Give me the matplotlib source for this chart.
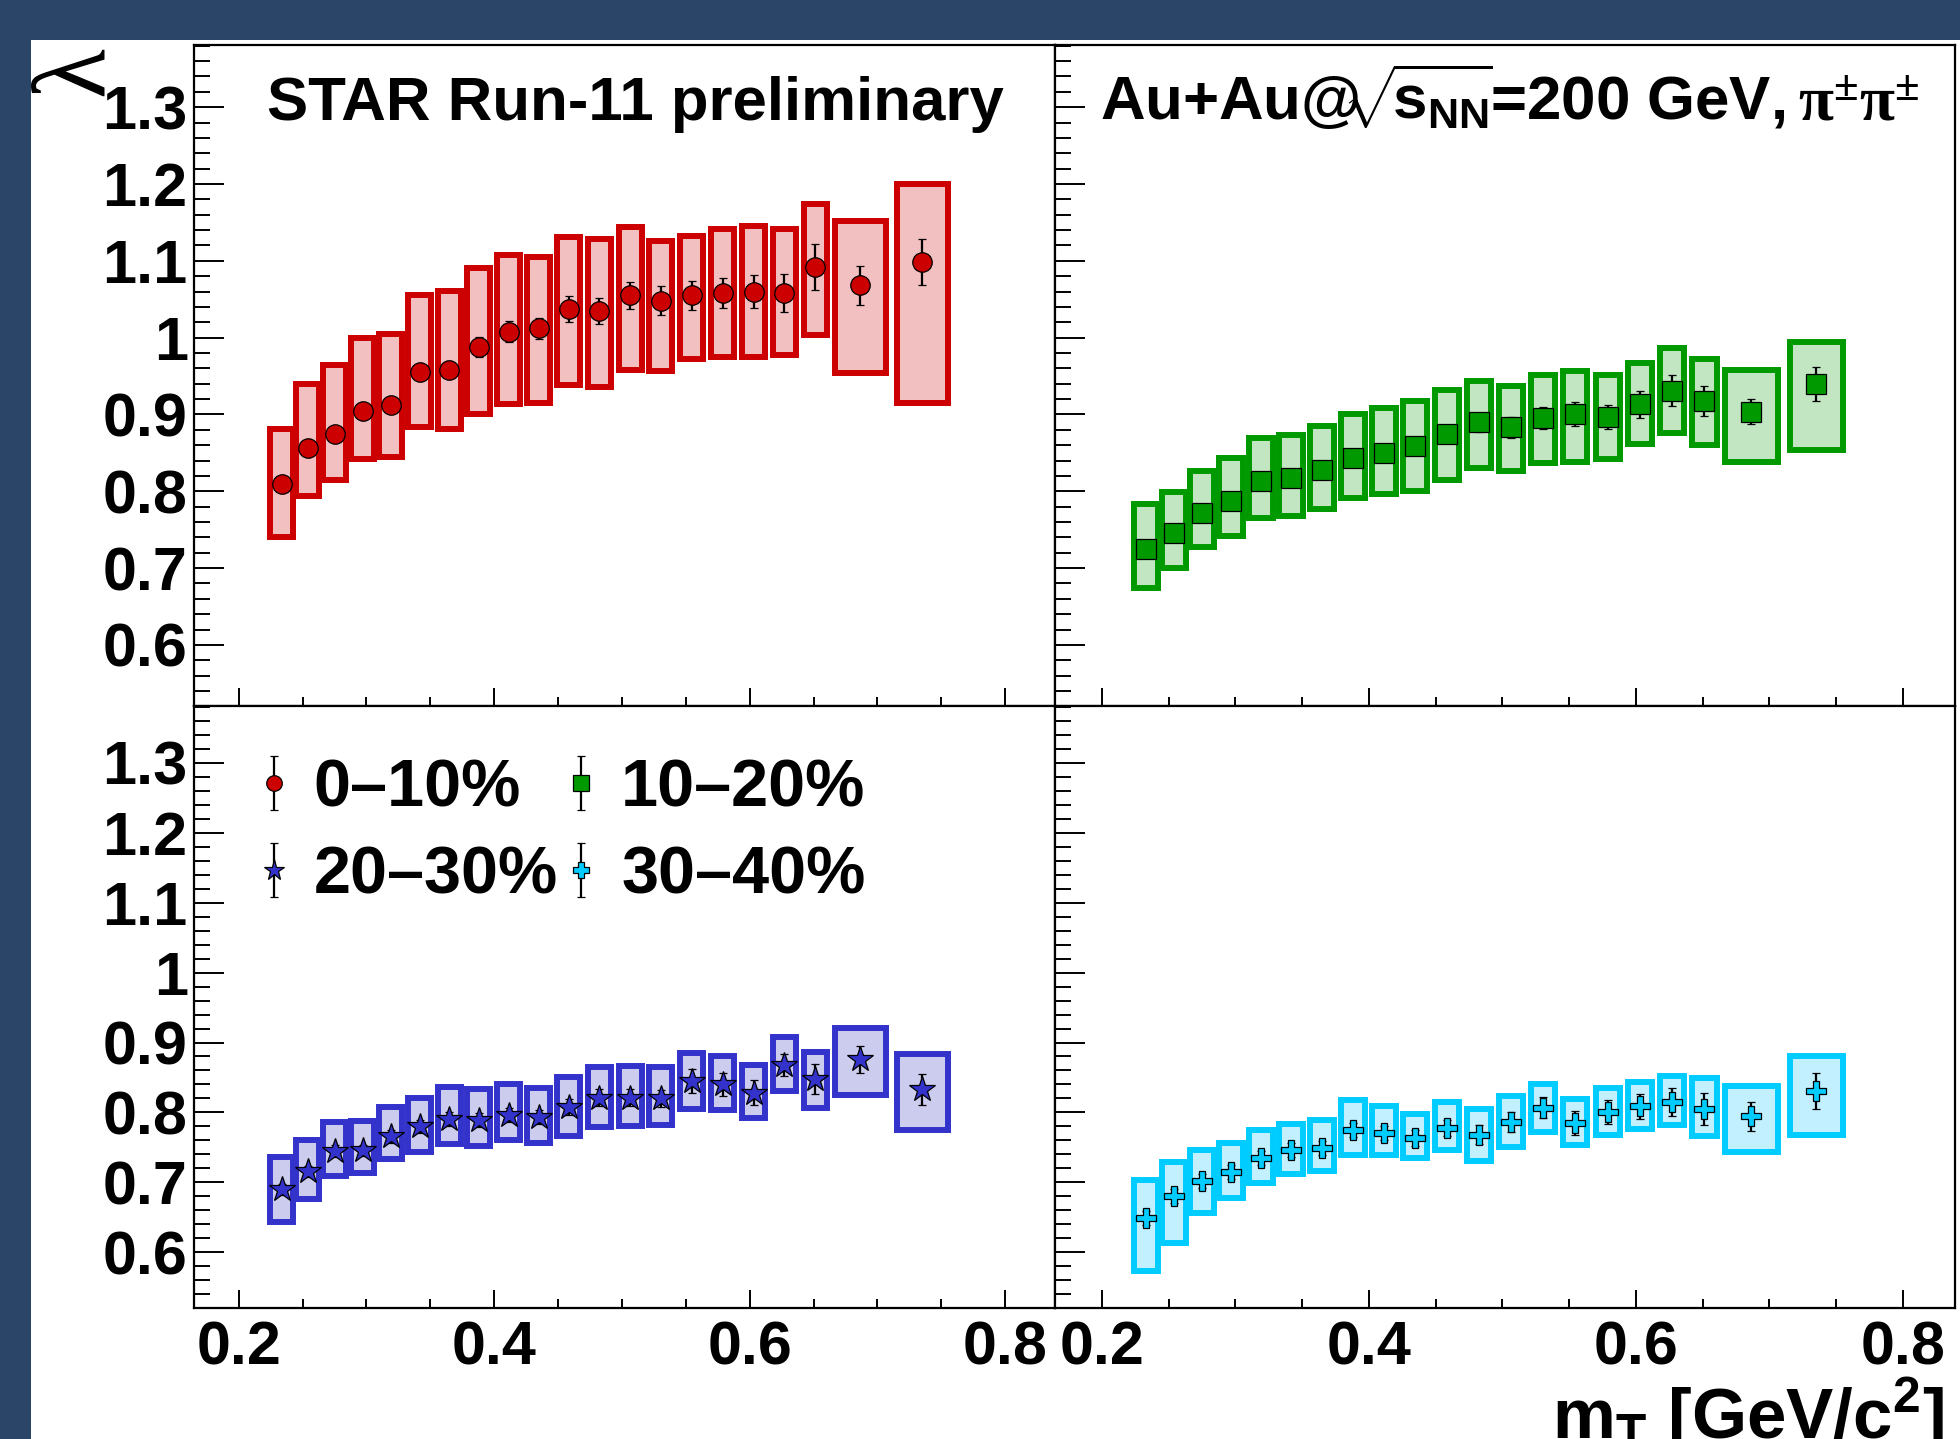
import numpy as np
import matplotlib
matplotlib.use('Agg')
import matplotlib.pyplot as plt
from matplotlib.patches import Rectangle
from matplotlib.ticker import MultipleLocator, FixedLocator
from matplotlib.legend_handler import HandlerErrorbar

plt.rcParams['font.family'] = ['Liberation Sans', 'DejaVu Sans']
plt.rcParams['font.weight'] = 'bold'
plt.rcParams['mathtext.fontset'] = 'custom'
plt.rcParams['mathtext.rm'] = 'Liberation Sans:bold'
plt.rcParams['mathtext.bf'] = 'Liberation Sans:bold'
plt.rcParams['mathtext.it'] = 'Liberation Sans:bold:italic'
plt.rcParams['mathtext.sf'] = 'Liberation Serif'

# --- data ---
mt = [0.2335, 0.254, 0.2752, 0.297, 0.319, 0.3417, 0.3648, 0.388, 0.4113, 0.4348, 0.4584,
      0.4824, 0.5065, 0.5303, 0.5545, 0.5789, 0.603, 0.6272, 0.6514, 0.6865, 0.7351]
box_w = [0.018] * 19 + [0.04, 0.04]

centrality = ['0–10%', '10–20%', '20–30%', '30–40%']

lam_0_10 = [0.809, 0.857, 0.874, 0.905, 0.912, 0.955, 0.958, 0.988, 1.008, 1.012, 1.037,
            1.035, 1.055, 1.048, 1.055, 1.058, 1.060, 1.058, 1.092, 1.068, 1.098]
stat_0_10 = [0.008, 0.008, 0.009, 0.009, 0.010, 0.010, 0.011, 0.013, 0.0135, 0.014, 0.0167,
             0.0167, 0.018, 0.019, 0.019, 0.020, 0.021, 0.025, 0.030, 0.025, 0.030]
syshi_0_10 = [0.072, 0.083, 0.090, 0.094, 0.093, 0.100, 0.103, 0.103, 0.100, 0.093, 0.094,
              0.093, 0.089, 0.078, 0.078, 0.084, 0.085, 0.084, 0.082, 0.084, 0.102]
syslo_0_10 = [0.068, 0.063, 0.059, 0.063, 0.067, 0.071, 0.077, 0.088, 0.094, 0.097, 0.099,
              0.099, 0.097, 0.091, 0.083, 0.083, 0.085, 0.080, 0.089, 0.114, 0.183]

lam_10_20 = [0.7255, 0.746, 0.7716, 0.7873, 0.8129, 0.8177, 0.8281, 0.8437, 0.8503, 0.859, 0.8746,
             0.8898, 0.8832, 0.8955, 0.9011, 0.8972, 0.9132, 0.9311, 0.9177, 0.9037, 0.9398]
stat_10_20 = [0.008, 0.008, 0.008, 0.009, 0.009, 0.010, 0.010, 0.011, 0.011, 0.011, 0.012,
              0.012, 0.0135, 0.014, 0.0156, 0.0156, 0.018, 0.020, 0.020, 0.016, 0.0226]
syshi_10_20 = [0.058, 0.053, 0.055, 0.056, 0.057, 0.056, 0.057, 0.057, 0.058, 0.058, 0.057,
               0.054, 0.054, 0.056, 0.055, 0.054, 0.054, 0.055, 0.054, 0.054, 0.054]
syslo_10_20 = [0.051, 0.046, 0.044, 0.045, 0.048, 0.050, 0.051, 0.053, 0.054, 0.058, 0.060,
               0.060, 0.057, 0.059, 0.063, 0.055, 0.051, 0.055, 0.058, 0.065, 0.086]

lam_20_30 = [0.690, 0.716, 0.745, 0.746, 0.766, 0.780, 0.791, 0.789, 0.797, 0.794, 0.808,
             0.821, 0.821, 0.820, 0.845, 0.840, 0.828, 0.868, 0.848, 0.876, 0.833]
stat_20_30 = [0.008, 0.008, 0.008, 0.008, 0.009, 0.009, 0.010, 0.010, 0.010, 0.010, 0.011,
              0.012, 0.012, 0.012, 0.0167, 0.016, 0.018, 0.0155, 0.0215, 0.0196, 0.022]
syshi_20_30 = [0.047, 0.045, 0.041, 0.042, 0.042, 0.041, 0.046, 0.044, 0.043, 0.041, 0.042,
               0.044, 0.046, 0.045, 0.040, 0.041, 0.040, 0.040, 0.039, 0.045, 0.051]
syslo_20_30 = [0.047, 0.039, 0.036, 0.032, 0.033, 0.037, 0.036, 0.037, 0.037, 0.038, 0.041,
               0.042, 0.041, 0.038, 0.040, 0.037, 0.036, 0.038, 0.042, 0.051, 0.058]

lam_30_40 = [0.649, 0.6805, 0.7016, 0.7149, 0.7355, 0.7459, 0.7488, 0.7745, 0.7712, 0.7635, 0.7778,
             0.7684, 0.786, 0.807, 0.785, 0.8003, 0.8089, 0.815, 0.805, 0.7946, 0.8303]
stat_30_40 = [0.010, 0.010, 0.010, 0.010, 0.010, 0.010, 0.010, 0.010, 0.010, 0.011, 0.012,
              0.013, 0.014, 0.015, 0.0167, 0.017, 0.018, 0.020, 0.023, 0.0207, 0.026]
syshi_30_40 = [0.054, 0.049, 0.045, 0.041, 0.039, 0.037, 0.041, 0.044, 0.038, 0.034, 0.037,
               0.037, 0.038, 0.034, 0.034, 0.035, 0.034, 0.037, 0.044, 0.043, 0.050]
syslo_30_40 = [0.076, 0.067, 0.045, 0.037, 0.036, 0.034, 0.033, 0.036, 0.032, 0.029, 0.032,
               0.038, 0.036, 0.035, 0.032, 0.033, 0.033, 0.033, 0.039, 0.051, 0.062]

xtick_vals = [0.2, 0.4, 0.6, 0.8]
xtick_labels = ['0.2', '0.4', '0.6', '0.8']
ytick_vals = [0.6, 0.7, 0.8, 0.9, 1.0, 1.1, 1.2, 1.3]
ytick_labels = ['0.6', '0.7', '0.8', '0.9', '1', '1.1', '1.2', '1.3']

W, H = 1960, 1439
fig = plt.figure(figsize=(W / 100, H / 100), dpi=100, facecolor='#2A4567')
fig.patches.append(Rectangle((31 / W, 0), 1 - 31 / W, 1 - 40 / H, transform=fig.transFigure,
                             facecolor='white', edgecolor='none', zorder=-1))


def px_axes(x0, y0, x1, y1):
    return fig.add_axes([x0 / W, 1 - y1 / H, (x1 - x0) / W, (y1 - y0) / H])


ax_tl = px_axes(194, 45, 1055, 706)
ax_tr = px_axes(1055, 45, 1955, 706)
ax_bl = px_axes(194, 706, 1055, 1308)
ax_br = px_axes(1055, 706, 1955, 1308)


def draw_panel(ax, lam, stat, syslo, syshi, color, fill, marker, ms):
    lam = np.array(lam)
    lo = np.array(syslo)
    hi = np.array(syshi)
    ax.bar(mt, lo + hi, width=box_w, bottom=lam - lo, color=fill, edgecolor=color,
           linewidth=4.3, zorder=1)
    eb = ax.errorbar(mt, lam, yerr=stat, fmt=marker, ms=ms, mfc=color, mec='black', mew=0.9,
                     ecolor='black', elinewidth=1.6, capsize=2.6, capthick=2.2, zorder=3)
    return eb


eb_red = draw_panel(ax_tl, lam_0_10, stat_0_10, syslo_0_10, syshi_0_10,
                    '#CC0000', '#F2C0C0', 'o', 14)
eb_green = draw_panel(ax_tr, lam_10_20, stat_10_20, syslo_10_20, syshi_10_20,
                      '#009900', '#C2E6C2', 's', 14)
eb_blue = draw_panel(ax_bl, lam_20_30, stat_20_30, syslo_20_30, syshi_20_30,
                     '#3333CC', '#CCCCEE', '*', 19)
eb_cyan = draw_panel(ax_br, lam_30_40, stat_30_40, syslo_30_40, syshi_30_40,
                     '#00CCFF', '#C2F0FF', 'P', 14.5)

for ax in [ax_tl, ax_tr, ax_bl, ax_br]:
    ax.set_xlim(0.165, 0.839)
    ax.set_ylim(0.5205, 1.381)
    ax.xaxis.set_major_locator(FixedLocator(xtick_vals))
    ax.xaxis.set_minor_locator(MultipleLocator(0.05))
    ax.yaxis.set_major_locator(FixedLocator(ytick_vals))
    ax.yaxis.set_minor_locator(MultipleLocator(0.02))
    ax.tick_params(which='both', direction='in', top=False, right=False, width=1.4,
                   labelsize=44)
    ax.tick_params(axis='y', which='major', length=21.5, pad=4.5)
    ax.tick_params(axis='y', which='minor', length=11.5)
    ax.tick_params(axis='x', which='major', length=13, pad=9)
    ax.tick_params(axis='x', which='minor', length=6.5)
    for s in ax.spines.values():
        s.set_linewidth(1.6)

for ax in [ax_tl, ax_bl]:
    ax.set_yticks(ytick_vals, labels=ytick_labels)
for ax in [ax_tr, ax_br]:
    ax.tick_params(labelleft=False)
for ax in [ax_bl, ax_br]:
    ax.set_xticks(xtick_vals, labels=xtick_labels)
for ax in [ax_tl, ax_tr]:
    ax.tick_params(labelbottom=False)

ax_tl.text(0.0843, 0.886, 'STAR Run-11 preliminary', transform=ax_tl.transAxes,
           fontsize=44.5, va='baseline', ha='left')
ax_tr.text(0.0504, 0.886,
           r'Au+Au@$\!\!\sqrt{\!\mathrm{s}_{\mathrm{NN}}\!}$=200 GeV,',
           transform=ax_tr.transAxes, fontsize=44.5, va='baseline', ha='left')
ax_tr.text(0.961, 0.886, r'$\mathsf{\pi^{\pm}\pi^{\pm}}$',
           transform=ax_tr.transAxes, fontsize=46, va='baseline', ha='right')

leg = ax_bl.legend([eb_red, eb_blue, eb_green, eb_cyan],
                   [centrality[0], centrality[2], centrality[1], centrality[3]],
                   ncol=2, loc='upper left', bbox_to_anchor=(0.073, 0.913), frameon=False,
                   fontsize=48, handlelength=0.5, handletextpad=0.35, columnspacing=0.1,
                   labelspacing=0.375, borderpad=0, borderaxespad=0, markerscale=0.8,
                   handler_map={type(eb_red): HandlerErrorbar(yerr_size=0.4)})

fig.text(102 / W, 1 - 71 / H, 'λ', rotation=90, rotation_mode='anchor', ha='center',
         va='baseline', fontsize=74, family='Liberation Serif', fontweight='normal')
fig.text(1552 / W, 1 / H, r'm$_{\mathbf{T}}$ [GeV/c$^{\mathbf{2}}$]', fontsize=51,
         ha='left', va='baseline')

fig.savefig('out.png', dpi=100, facecolor=fig.get_facecolor())
